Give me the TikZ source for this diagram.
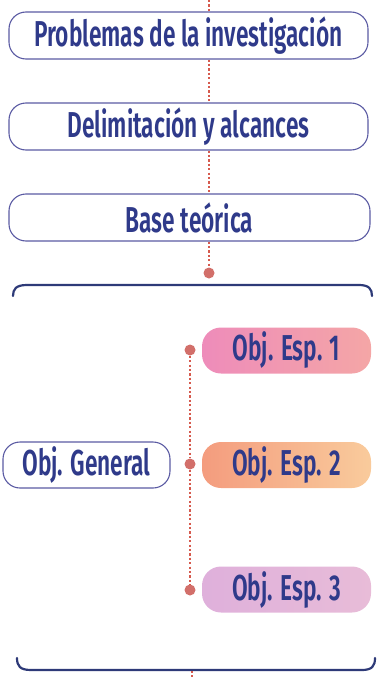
\documentclass[tikz,border=0pt]{standalone}
\usepackage{fontspec}
\setmainfont{Fira Sans}
\newfontfamily\lblfont{Fira Sans SemiBold}[FakeStretch=0.63]
\definecolor{txt}{HTML}{2F3A8A}
\definecolor{bord}{HTML}{5B5BA3}
\definecolor{brk}{HTML}{2E3A78}
\definecolor{dotc}{HTML}{D26F6A}
\definecolor{dashc}{HTML}{D65A4E}
\definecolor{pkA}{HTML}{EE8CBA}
\definecolor{pkB}{HTML}{F4A6A6}
\definecolor{orA}{HTML}{F49C7E}
\definecolor{orB}{HTML}{F9CB9C}
\definecolor{lvA}{HTML}{DFB0DB}
\definecolor{lvB}{HTML}{E8BCD8}
\tikzset{
  lbl/.style={font=\lblfont\fontsize{36}{38}\selectfont, text=txt},
  topbox/.style={lbl, draw=bord, line width=1.1pt, fill=white, rounded corners=17pt, minimum width=359pt, minimum height=47pt, inner sep=0pt},
  genbox/.style={lbl, draw=bord, line width=1.1pt, fill=white, rounded corners=17pt, minimum width=167pt, minimum height=46pt, inner sep=0pt},
  espbox/.style={lbl, rounded corners=19pt, minimum width=169pt, minimum height=46pt, inner sep=0pt},
  reddot/.style={circle, fill=dotc, inner sep=0pt, minimum size=11pt},
  dline/.style={draw=dashc, line width=1.3pt, dash pattern=on 2.2pt off 2.2pt},
  bracket/.style={draw=brk, line width=2.2pt, line cap=round}
}
\begin{document}
\begin{tikzpicture}[x=1pt,y=-1pt]
\useasboundingbox (0,0) rectangle (378,677);
\node[topbox] (prob) at (188.5,35.5) {Problemas de la investigación};
\node[topbox] (delim) at (188.5,126.5) {Delimitación y alcances};
\node[topbox, minimum width=361pt] (base) at (189.5,217.5) {Base teórica};
\node[reddot] (d0) at (209,273) {};
\coordinate (top) at (209,0);
\draw[dline] (top) -- (prob.north -| top);
\draw[dline] (prob.south -| top) -- (delim.north -| top);
\draw[dline] (delim.south -| top) -- (base.north -| top);
\draw[dline] (base.south -| top) -- (d0);
% brackets
\draw[bracket] (13,296) .. controls (13,289) and (16,285) .. (27,285) -- (359,285) .. controls (369,285) and (372,289) .. (372,296);
\draw[bracket] (17,658) .. controls (17,666) and (20,670) .. (31,670) -- (362,670) .. controls (372,670) and (375,666) .. (375,658);
\coordinate (bt1) at (192,671);
\coordinate (bt2) at (192,677);
\draw[dline] (bt1) -- (bt2);
% objectives
\node[genbox] (gen) at (86.5,465) {Obj. General};
\node[espbox, left color=pkA, right color=pkB] (e1) at (286.5,350.5) {Obj. Esp. 1};
\node[espbox, left color=orA, right color=orB] (e2) at (286.5,465) {Obj. Esp. 2};
\node[espbox, left color=lvA, right color=lvB] (e3) at (286.5,589.5) {Obj. Esp. 3};
\node[reddot] (p1) at (190,350) {};
\node[reddot] (p2) at (190,464) {};
\node[reddot] (p3) at (190,590) {};
\draw[dline] (p1) -- (p2);
\draw[dline] (p2) -- (p3);
\end{tikzpicture}
\end{document}
